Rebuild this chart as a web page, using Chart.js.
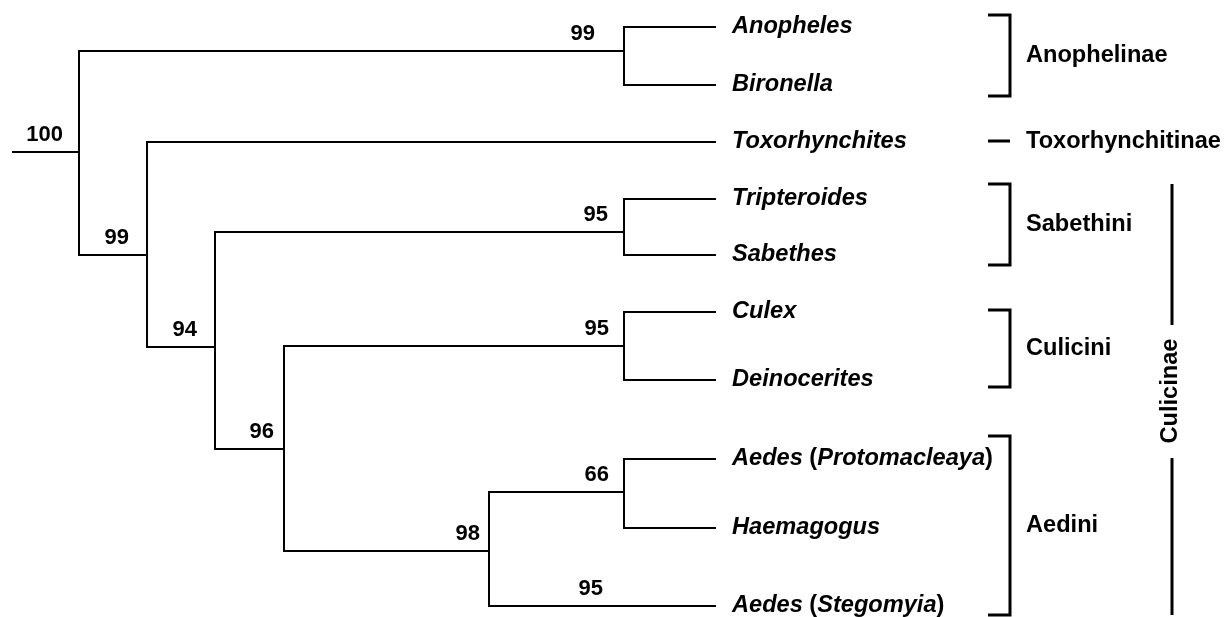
<!DOCTYPE html>
<html>
<head>
<meta charset="utf-8">
<script src="https://cdn.jsdelivr.net/npm/chart.js@4/dist/chart.umd.min.js"></script>
<style>
  html, body { margin: 0; padding: 0; background: #fff; }
  canvas { display: block; }
</style>
</head>
<body>
<canvas id="tree" width="1226" height="617"></canvas>
<script>
// tips (top to bottom) and their rows
const taxa = ['Anopheles', 'Bironella', 'Toxorhynchites', 'Tripteroides', 'Sabethes',
              'Culex', 'Deinocerites', 'Aedes (Protomacleaya)', 'Haemagogus', 'Aedes (Stegomyia)'];
const tipY = [27, 85, 142, 199, 255, 312, 380, 459, 528, 606];
const tipX = 716;

// internal nodes: depth, height, children, bootstrap support
const nodeX = [79, 624, 147, 215, 624, 284, 624, 489, 624];
const nodeY = [152, 51, 255, 347, 232, 449, 346, 551, 492];
const nodeKids = [['n1', 'n2'], ['t0', 't1'], ['t2', 'n3'], ['n4', 'n5'], ['t3', 't4'],
                  ['n6', 'n7'], ['t5', 't6'], ['n8', 't9'], ['t7', 't8']];
const support = [100, 99, 99, 94, 95, 96, 95, 98, 66];
const rootStart = 12;
const tipSupport = [null, null, null, null, null, null, null, null, null, 95];

// classification brackets
const groups = ['Anophelinae', 'Toxorhynchitinae', 'Sabethini', 'Culicini', 'Aedini'];
const groupTop = [15, 141, 184, 310, 436];
const groupBottom = [96, 141, 265, 387, 615];
const subfamily = 'Culicinae';
const subfamilyTop = 184;
const subfamilyBottom = 615;

// label layout (gap between label right edge and node)
const supportGap = [16, 29, 18, 18, 16, 10, 15, 9, 15];
const tipSupportGap = 113;

function pos(id) {
    const i = +id.slice(1);
    return id[0] === 't' ? { x: tipX, y: tipY[i] } : { x: nodeX[i], y: nodeY[i] };
}

const line = (pts, w) => ({
    data: pts, showLine: true, borderColor: '#000', borderWidth: w || 2,
    pointRadius: 0, borderJoinStyle: 'miter', borderCapStyle: 'butt', clip: false
});

const datasets = [line([{ x: rootStart, y: nodeY[0] }, { x: nodeX[0], y: nodeY[0] }])];
nodeKids.forEach((kids, i) => {
    kids.forEach(k => {
        const c = pos(k);
        datasets.push(line([{ x: nodeX[i], y: nodeY[i] }, { x: nodeX[i], y: c.y }, { x: c.x, y: c.y }]));
    });
});
groups.forEach((g, i) => {
    datasets.push(line([{ x: 988, y: groupTop[i] }, { x: 1010, y: groupTop[i] },
                        { x: 1010, y: groupBottom[i] }, { x: 988, y: groupBottom[i] }], 3));
});
const subMid = 391;
datasets.push(line([{ x: 1172, y: subfamilyTop }, { x: 1172, y: subMid - 66 }], 3));
datasets.push(line([{ x: 1172, y: subMid + 67 }, { x: 1172, y: subfamilyBottom }], 3));

const FONT = '"Liberation Sans", Arial, sans-serif';
const SIZE = '23.6px ';

function drawRich(ctx, parts, x, y) {
    parts.forEach(p => {
        ctx.font = (p.it ? 'italic ' : '') + 'bold ' + SIZE + FONT;
        ctx.fillText(p.t, x, y);
        x += ctx.measureText(p.t).width;
    });
}

const labels = {
    id: 'labels',
    afterDatasetsDraw(chart) {
        const ctx = chart.ctx, sx = chart.scales.x, sy = chart.scales.y;
        ctx.save();
        ctx.fillStyle = '#000';
        ctx.textBaseline = 'middle';

        // bootstrap values
        ctx.font = 'bold 22px ' + FONT;
        ctx.textAlign = 'right';
        support.forEach((s, i) => {
            ctx.fillText(String(s), sx.getPixelForValue(nodeX[i] - supportGap[i]), sy.getPixelForValue(nodeY[i] - 17));
        });
        tipSupport.forEach((s, i) => {
            if (s == null) return;
            ctx.fillText(String(s), sx.getPixelForValue(tipX - tipSupportGap), sy.getPixelForValue(tipY[i] - 17));
        });

        // taxon names
        ctx.textAlign = 'left';
        taxa.forEach((t, i) => {
            const m = t.match(/^(\S+) \((.+)\)$/);
            const parts = m ? [{ t: m[1], it: true }, { t: ' (' }, { t: m[2], it: true }, { t: ')' }]
                            : [{ t: t, it: true }];
            drawRich(ctx, parts, sx.getPixelForValue(tipX + 16), sy.getPixelForValue(tipY[i] - 1));
        });

        // group names
        ctx.font = 'bold ' + SIZE + FONT;
        groups.forEach((g, i) => {
            ctx.fillText(g, sx.getPixelForValue(1026), sy.getPixelForValue((groupTop[i] + groupBottom[i]) / 2));
        });

        ctx.translate(sx.getPixelForValue(1170), sy.getPixelForValue(subMid));
        ctx.rotate(-Math.PI / 2);
        ctx.textAlign = 'center';
        ctx.fillText(subfamily, 0, 0);
        ctx.restore();
    }
};

new Chart(document.getElementById('tree'), {
    type: 'scatter',
    data: { datasets: datasets },
    options: {
        responsive: false,
        animation: false,
        devicePixelRatio: 1,
        layout: { padding: 0 },
        plugins: { legend: { display: false }, tooltip: { enabled: false } },
        scales: {
            x: { type: 'linear', min: 0, max: 1226, display: false },
            y: { type: 'linear', min: 0, max: 617, reverse: true, display: false }
        }
    },
    plugins: [labels]
});
</script>
</body>
</html>
